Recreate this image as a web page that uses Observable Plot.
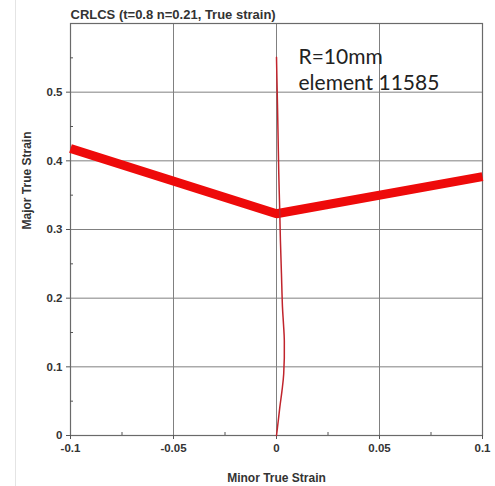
<!DOCTYPE html>
<html>
<head>
<meta charset="utf-8">
<script src="https://cdn.jsdelivr.net/npm/d3@7"></script>
<script src="https://cdn.jsdelivr.net/npm/@observablehq/plot@0.6"></script>
<style>
  html, body { margin: 0; padding: 0; background: #fff; }
  #wrap { position: relative; width: 495px; height: 486px; overflow: hidden; }
  #edge { position: absolute; left: 15px; top: 0; width: 1px; height: 486px; background: #e4e4e4; }
</style>
</head>
<body>
<div id="wrap"><div id="edge"></div></div>
<script>
const title = "CRLCS (t=0.8 n=0.21, True strain)";
const xLabel = "Minor True Strain";
const yLabel = "Major True Strain";
const noteLines = ["R=10mm", "element 11585"];

const xTicks = [-0.1, -0.05, 0, 0.05, 0.1];
const xMinor = [-0.075, -0.025, 0.025, 0.075];
const yTicks = [0, 0.1, 0.2, 0.3, 0.4, 0.5];
const yMinor = [0.05, 0.15, 0.25, 0.35, 0.45, 0.55];

// Forming limit curve (thick red)
const flcMinor = [-0.1, 0, 0.1];
const flcMajor = [0.418, 0.323, 0.377];

// Element strain path (thin dark red)
const pathMinor = [0, 0.0008, 0.0016, 0.0027, 0.0035, 0.0038, 0.0034, 0.0029, 0.0024, 0.0019, 0.0016, 0.0011, 0.0008, 0.0005, 0.0002, 0.0];
const pathMajor = [0, 0.02, 0.041, 0.066, 0.090, 0.138, 0.162, 0.187, 0.236, 0.284, 0.324, 0.382, 0.430, 0.478, 0.52, 0.551];

const flc = flcMinor.map((x, i) => ({x, y: flcMajor[i]}));
const path = pathMinor.map((x, i) => ({x, y: pathMajor[i]}));

const font = "'Liberation Sans', Arial, sans-serif";

const chart = Plot.plot({
  width: 495,
  height: 486,
  marginLeft: 70,
  marginRight: 13,
  marginTop: 23,
  marginBottom: 51,
  style: { fontFamily: font, background: "#fff", color: "#333" },
  x: { domain: [-0.1, 0.1] },
  y: { domain: [0, 0.6] },
  marks: [
    Plot.gridX(xTicks, { stroke: "#808080", strokeOpacity: 1, strokeWidth: 1 }),
    Plot.gridY(yTicks, { stroke: "#808080", strokeOpacity: 1, strokeWidth: 1 }),
    Plot.frame({ stroke: "#6a6a6a", strokeWidth: 1.2 }),
    Plot.axisX(xTicks, { tickSize: 4, tickPadding: 4, tickFormat: d => String(d), fontWeight: "bold", fontSize: 11.5, stroke: "#555", fill: "#333", label: null }),
    Plot.axisX(xMinor, { tickSize: -3, text: null, stroke: "#555", label: null }),
    Plot.axisY(yTicks, { tickSize: 4, tickPadding: 4, tickFormat: d => String(d), fontWeight: "bold", fontSize: 11.5, stroke: "#555", fill: "#333", label: null }),
    Plot.axisY(yMinor, { tickSize: -3, text: null, stroke: "#555", label: null }),
    Plot.line(flc, { x: "x", y: "y", stroke: "#ee0a0a", strokeWidth: 9, strokeLinejoin: "miter", strokeLinecap: "butt" }),
    Plot.line(path, { x: "x", y: "y", stroke: "#c0242c", strokeWidth: 1.5, curve: "catmull-rom" }),
    Plot.text([title], { frameAnchor: "top-left", dy: -5, lineAnchor: "bottom", textAnchor: "start", fontSize: 13, fontWeight: "bold", fill: "#333" }),
    Plot.text([xLabel], { frameAnchor: "bottom", dy: 43, lineAnchor: "middle", fontSize: 12, fontWeight: "bold", fill: "#333" }),
    Plot.text([yLabel], { frameAnchor: "left", dx: -43, rotate: -90, lineAnchor: "middle", fontSize: 12, fontWeight: "bold", fill: "#333" }),
    Plot.text([noteLines.join("\n")], { frameAnchor: "top-left", dx: 228, dy: 22, lineAnchor: "top", textAnchor: "start", lineHeight: 1.25, fontSize: 21, fontFamily: "Lato, 'Open Sans', sans-serif", fill: "#222" })
  ]
});
document.getElementById("wrap").appendChild(chart);
</script>
</body>
</html>
